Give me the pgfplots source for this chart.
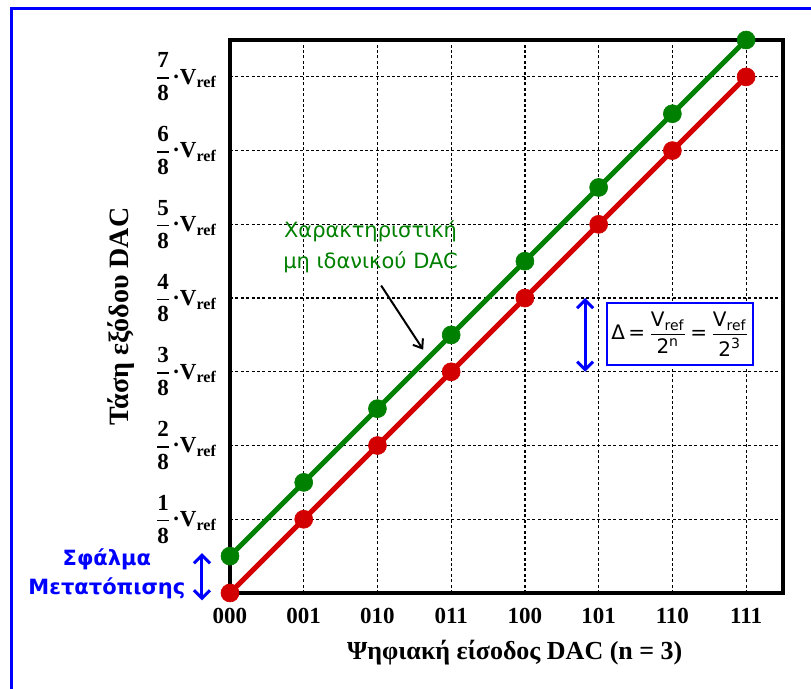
\documentclass[border=0pt]{standalone}
\usepackage{pgfplots}
\pgfplotsset{compat=1.18}
\usepackage{amsmath}
\usepackage{fontspec}
\setmainfont{Liberation Serif}
\newfontfamily\sans{DejaVu Sans}
\usetikzlibrary{arrows.meta}
\definecolor{dgreen}{RGB}{0,128,0}
\definecolor{dred}{RGB}{210,0,0}
% y tick label: k/8 . V_ref
\newcommand{\fr}[1]{$\genfrac{}{}{0.8pt}{0}{\mbox{\bfseries #1}}{\mbox{\bfseries 8}}$\kern0.5pt·V\textsubscript{ref}}
\newcommand{\vfrac}[1]{$\genfrac{}{}{0.5pt}{0}{\mbox{V\textsubscript{ref}}}{\mbox{2\textsuperscript{#1}}}$}

\begin{document}
\begin{tikzpicture}
\useasboundingbox (-115pt,-48pt) rectangle (290.5pt,296.5pt);
\draw[blue, line width=1.5pt] (-109.25pt,-49pt) -- (-109.25pt,292.25pt) -- (291pt,292.25pt);
\begin{axis}[
at={(0,0)}, anchor=south west,
width=276.5pt, height=276.5pt, scale only axis,
xmin=0, xmax=7.5, ymin=0, ymax=7.5,
clip=false,
axis line style={line width=2pt},
major tick length=0pt,
xtick={0,...,7},
xticklabels={000,001,010,011,100,101,110,111},
ytick={1,...,7},
yticklabels={\fr{1},\fr{2},\fr{3},\fr{4},\fr{5},\fr{6},\fr{7}},
xticklabel style={font=\bfseries\fontsize{11.5}{13}\selectfont, yshift=-4pt},
yticklabel style={font=\bfseries\fontsize{11.5}{13}\selectfont, xshift=-3pt},
xmajorgrids, ymajorgrids,
grid style={black, line width=0.6pt, dash pattern=on 1.5pt off 1.2pt},
]

% ideal DAC (red)
\addplot[color=dred, line width=2.5pt, mark=*, mark size=4.5pt, mark options={solid, line width=0.3pt}]
coordinates{
(0,0) (1,1) (2,2) (3,3) (4,4) (5,5) (6,6) (7,7)
};

% non ideal DAC, offset error (green)
\addplot[color=dgreen, line width=2.5pt, mark=*, mark size=4.5pt, mark options={solid, line width=0.3pt}]
coordinates{
(0,0.5) (1,1.5) (2,2.5) (3,3.5) (4,4.5) (5,5.5) (6,6.5) (7,7.5)
};

% annotations
\node[dgreen, align=center, font=\sans\fontsize{10.5}{15.5}\selectfont] at (axis cs:1.906,4.69)
  {Χαρακτηριστική\\μη ιδανικού DAC};
\draw[black, line width=1pt, -{Straight Barb[length=4pt,width=6pt]}] (axis cs:2.05,4.17) -- (axis cs:2.62,3.30);

\draw[blue, line width=1.5pt, {Straight Barb[length=4pt,width=8pt]}-{Straight Barb[length=4pt,width=8pt]}]
  (axis cs:4.817,3.0) -- (axis cs:4.817,4.0);
\node[draw=blue, line width=1.2pt, fill=white, minimum width=73pt, minimum height=31pt, inner sep=1pt,
  font=\sans\fontsize{10}{12}\selectfont] at (axis cs:6.106,3.514)
  {Δ\,=\,\vfrac{n}\,=\,\vfrac{3}};

\draw[blue, line width=1.5pt, {Straight Barb[length=4pt,width=8pt]}-{Straight Barb[length=4pt,width=8pt]}]
  (axis cs:-0.38,-0.1) -- (axis cs:-0.38,0.54);
\node[blue, align=center, font=\sans\bfseries\fontsize{10.5}{14.5}\selectfont] at (axis cs:-1.67,0.265)
  {Σφάλμα\\Μετατόπισης};

% axis titles
\node[font=\bfseries\fontsize{13}{15}\selectfont] at (rel axis cs:0.515,-0.107)
  {Ψηφιακή είσοδος DAC (n = 3)};
\node[rotate=90, font=\bfseries\fontsize{14}{16}\selectfont] at (rel axis cs:-0.197,0.5)
  {Τάση εξόδου DAC};
\end{axis}
\end{tikzpicture}
\end{document}
